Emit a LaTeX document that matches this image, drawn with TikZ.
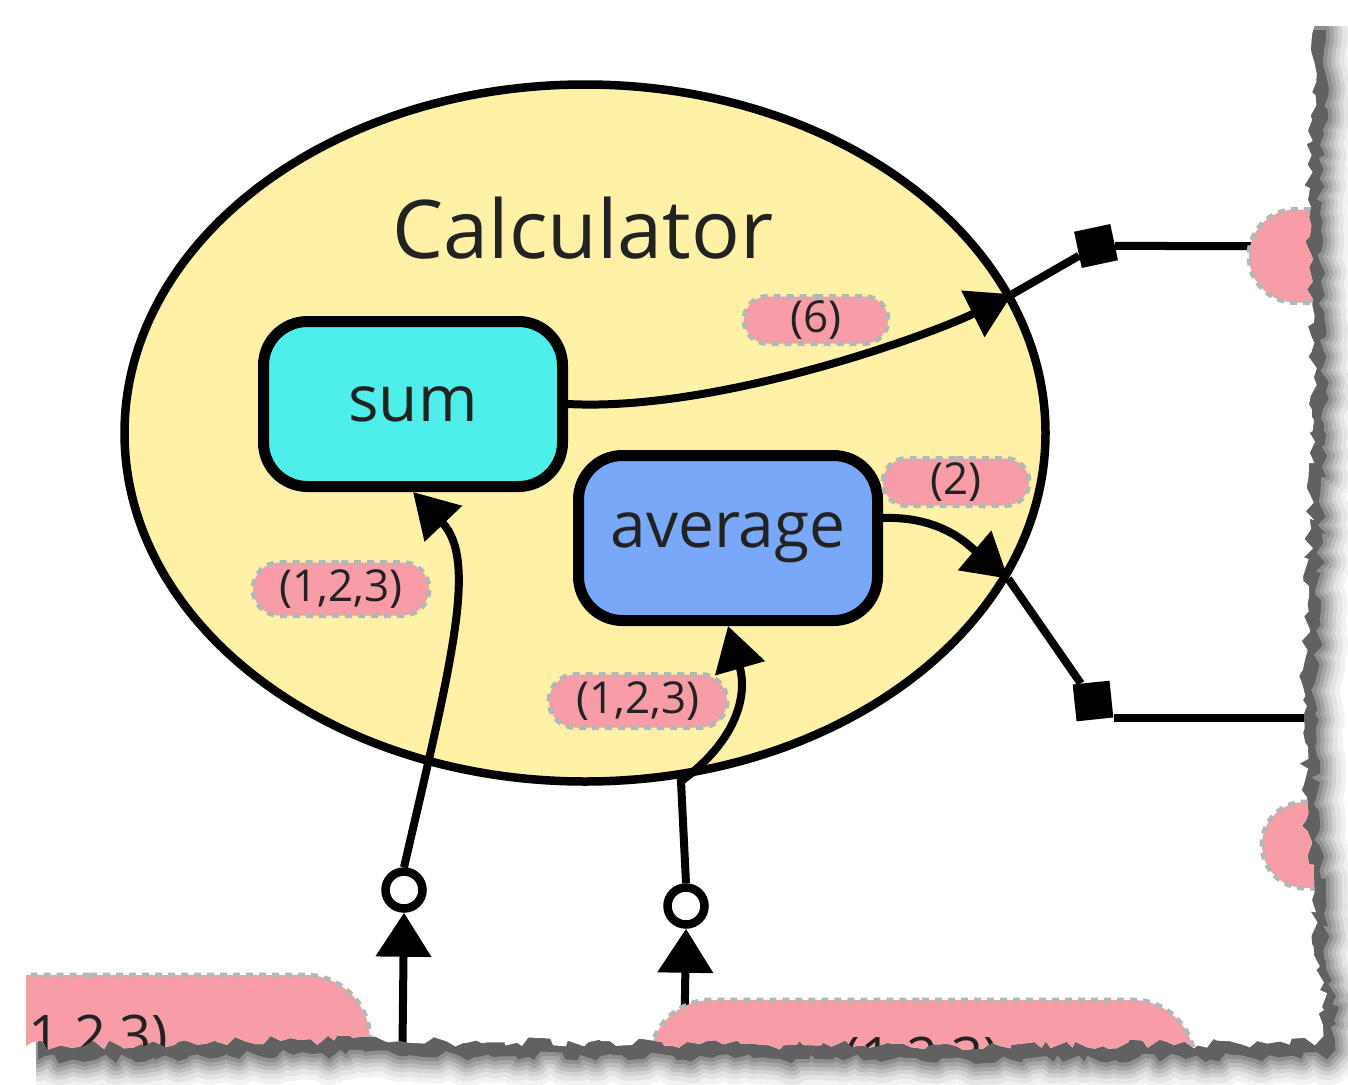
\documentclass[tikz,border=0pt]{standalone}
\usepackage{fontspec}
\setmainfont{Open Sans}
\usetikzlibrary{arrows.meta,shapes.geometric,shapes.misc,decorations.pathmorphing}
\definecolor{ellfill}{RGB}{255,242,166}
\definecolor{sumfill}{RGB}{78,239,234}
\definecolor{avgfill}{RGB}{122,168,248}
\definecolor{pinkc}{RGB}{248,157,168}
\definecolor{dotgray}{RGB}{182,182,182}
\definecolor{txt}{RGB}{34,34,34}
\newcommand\paperpath{(26,16) -- (1314,16) decorate[decoration={random steps,segment length=8pt,amplitude=5pt}]{ -- (1312,120) -- (1308,200) -- (1314,420) -- (1303,700) -- (1306,820) -- (1312,900) -- (1324,1010) -- (1318,1042) -- (1000,1046) -- (700,1044) -- (300,1040) -- (26,1046)} -- cycle}
\begin{document}
\begin{tikzpicture}[x=1pt,y=-1pt,
  lbl/.style={shape=rounded rectangle, fill=pinkc, draw=dotgray, line width=5pt, dash pattern=on 7pt off 6pt, text=txt, font=\fontsize{44}{50}\selectfont, inner sep=0pt},
  biglbl/.style={lbl, font=\fontsize{56}{60}\selectfont},
  fn/.style={rectangle, rounded corners=44pt, draw=black, line width=11pt, text=txt, font=\fontsize{64}{70}\selectfont, minimum width=299pt, minimum height=165pt},
  conn/.style={line width=8pt, draw=black},
  tipA/.style={-{Triangle[length=44pt,width=50pt]}},
  tipB/.style={-{Triangle[length=44pt,width=54pt]}},
  sqr/.style={rectangle, fill=black, minimum size=37pt, inner sep=0pt},
  port/.style={circle, draw=black, fill=white, line width=8.5pt, minimum size=37pt, inner sep=0pt}
]
\useasboundingbox (0,0) rectangle (1348,1084);
% shadow
\begin{scope}
  \clip (36,26) rectangle (1348,1084);
  \foreach \w/\o in {52/0.05,42/0.06,32/0.08,24/0.1,16/0.12,8/0.14} {
    \pgfmathsetseed{11}
    \draw[shift={(12,14)}, line width=\w pt, black, opacity=\o, line join=round] \paperpath;
  }
  \pgfmathsetseed{11}
  \fill[shift={(12,14)}, black!62] \paperpath;
\end{scope}
\pgfmathsetseed{11}
\fill[white] \paperpath;
\begin{scope}
  \pgfmathsetseed{11}
  \clip \paperpath;
  \node[ellipse, fill=ellfill, draw=black, line width=8.5pt, minimum width=921pt, minimum height=697pt] (calc) at (585,433) {};
  \node[font=\fontsize{81}{90}\selectfont, text=txt] (title) at (583,228) {Calculator};
  \node[fn, fill=sumfill] (sum) at (413,404) {sum};
  \node[fn, fill=avgfill] (avg) at (728,538) {average};
  \node[lbl, minimum width=144pt, minimum height=47pt] (l6) at (816,320) {(6)};
  \node[lbl, minimum width=146pt, minimum height=47pt] (l2) at (956,482) {(2)};
  \node[lbl, minimum width=176pt, minimum height=53pt] (la) at (341,589) {(1,2,3)};
  \node[lbl, minimum width=178pt, minimum height=53pt] (lb) at (638,701) {(1,2,3)};
  \node[lbl, minimum width=160pt, minimum height=86pt] (r2) at (1342,845) {};
  \node[biglbl, minimum width=560pt, minimum height=130pt] (b1) at (90,1040) {(1,2,3)};
  \node[sqr, rotate=12] (sq1) at (1096,246) {};
  \node[sqr, rotate=6] (sq2) at (1093,701) {};
  \node[port] (c1) at (404,890) {};
  \node[port] (c2) at (686,906) {};
  \coordinate (s1) at (402,1090);
  \coordinate (s2) at (684,1060);
  \coordinate (e1) at (1262,246);
  \coordinate (e2) at (1360,718);
  % connectors
  \draw[conn, tipA] (sum.east) .. controls +(150,8) and +(-80,40) .. (calc.18);
  \draw[conn] (calc.18) -- (sq1);
  \draw[conn] (sq1) -- (e1);
  \draw[conn, tipA] ([yshift=20pt]avg.east) .. controls +(60,-2) and +(-38,-32) .. (calc.-19);
  \draw[conn] (calc.-19) -- (sq2);
  \draw[conn] (sq2.south east) -- (sq2.south east -| e2);
  \draw[conn, tipB] (s1) -- (c1.south);
  \draw[conn, tipA] (c1.north) .. controls (452,660) and (478,560) .. (sum.south);
  \draw[conn, tipB] (s2) -- (c2.south);
  \draw[conn, tipA] (c2.north) -- ++(-5,-102) .. controls +(55,-40) and +(20,70) .. (avg.south);
  \node[lbl, minimum width=170pt, minimum height=93pt] (r1) at (1334,256) {};
  \node[biglbl, minimum width=545pt, minimum height=124pt] (b2) at (922,1062) {(1,2,3)};
\end{scope}
\end{tikzpicture}
\end{document}
